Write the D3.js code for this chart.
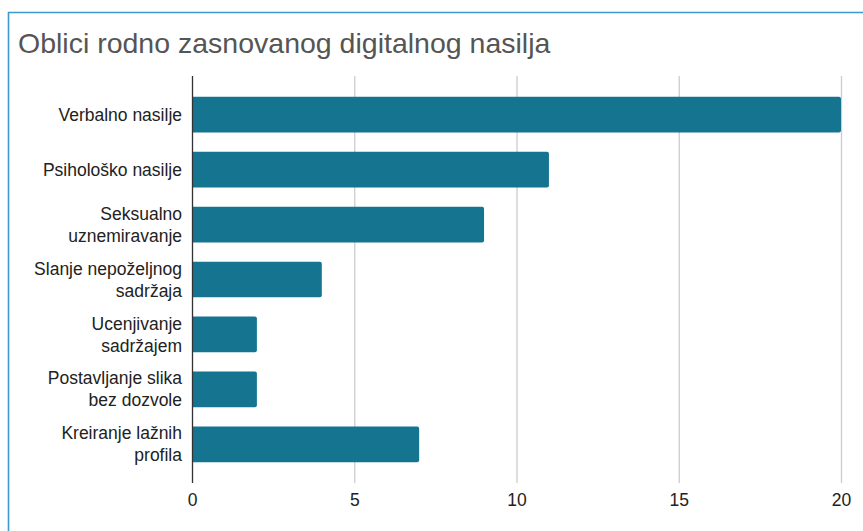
<!DOCTYPE html>
<html>
<head>
<meta charset="utf-8">
<script src="https://cdn.jsdelivr.net/npm/d3@7"></script>
<style>
  body { margin: 0; background: #fff; }
  svg { display: block; font-family: Arial, "Liberation Sans", sans-serif; }
</style>
</head>
<body>
<div id="chart"></div>
<script>
// data
var categories = [
    ["Verbalno nasilje"],
    ["Psihološko nasilje"],
    ["Seksualno", "uznemiravanje"],
    ["Slanje nepoželjnog", "sadržaja"],
    ["Ucenjivanje", "sadržajem"],
    ["Postavljanje slika", "bez dozvole"],
    ["Kreiranje lažnih", "profila"]
];
var values = [20, 11, 9, 4, 2, 2, 7];
var xTicks = [0, 5, 10, 15, 20];
var title = "Oblici rodno zasnovanog digitalnog nasilja";

var width = 863, height = 531;
var margin = {top: 76, right: 22, bottom: 48, left: 192};

var svg = d3.select("#chart").append("svg")
    .attr("width", width)
    .attr("height", height);

// frame (top + left edges visible)
svg.append("path")
    .attr("d", "M8.5," + height + "V12.5H" + width)
    .attr("fill", "none")
    .attr("stroke", "#3d9ad1")
    .attr("stroke-width", 1.6);

svg.append("text")
    .attr("x", 18)
    .attr("y", 53)
    .attr("font-size", 28.5)
    .attr("fill", "#555555")
    .text(title);

var x = d3.scaleLinear()
    .domain([0, 20])
    .range([margin.left, width - margin.right]);

var y = d3.scaleBand()
    .domain(d3.range(values.length))
    .range([margin.top, height - margin.bottom])
    .paddingInner(0.35)
    .paddingOuter(0.38);

var plotBottom = height - margin.bottom;

// gridlines
svg.append("g").selectAll("line")
    .data(xTicks.filter(function(d){ return d > 0; }))
    .enter().append("line")
    .attr("x1", function(d){ return x(d) + 0.5; })
    .attr("x2", function(d){ return x(d) + 0.5; })
    .attr("y1", margin.top)
    .attr("y2", plotBottom)
    .attr("stroke", "#cccccc")
    .attr("stroke-width", 1.3);

// bars, rounded on the right end only
function barPath(d, i) {
    var x0 = x(0), x1 = x(d), y0 = y(i), h = y.bandwidth(), r = 2;
    return "M" + x0 + "," + y0 +
        "H" + (x1 - r) +
        "Q" + x1 + "," + y0 + " " + x1 + "," + (y0 + r) +
        "V" + (y0 + h - r) +
        "Q" + x1 + "," + (y0 + h) + " " + (x1 - r) + "," + (y0 + h) +
        "H" + x0 + "Z";
}

svg.append("g").selectAll("path")
    .data(values)
    .enter().append("path")
    .attr("d", barPath)
    .attr("fill", "#157591");

// zero axis line
svg.append("line")
    .attr("x1", x(0) + 0.5)
    .attr("x2", x(0) + 0.5)
    .attr("y1", margin.top)
    .attr("y2", plotBottom)
    .attr("stroke", "#333333")
    .attr("stroke-width", 1.3);

// x tick labels
var xAxis = d3.axisBottom(x).tickValues(xTicks).tickSize(0).tickPadding(0);
var gx = svg.append("g")
    .attr("transform", "translate(0," + (plotBottom + 11) + ")")
    .call(xAxis);
gx.select(".domain").remove();
gx.selectAll("text")
    .attr("font-size", 17.5)
    .attr("font-family", "Arial, 'Liberation Sans', sans-serif")
    .attr("fill", "#222222")
    .attr("dy", "0.71em");

// category labels
var labels = svg.append("g").selectAll("text")
    .data(categories)
    .enter().append("text")
    .attr("text-anchor", "end")
    .attr("font-size", 17.5)
    .attr("fill", "#222222")
    .attr("x", x(0) - 10)
    .attr("y", function(d, i){
        return y(i) + y.bandwidth() / 2 - (d.length - 1) * 11;
    });

labels.selectAll("tspan")
    .data(function(d){ return d; })
    .enter().append("tspan")
    .attr("x", x(0) - 10)
    .attr("dy", function(d, j){ return j === 0 ? "0.35em" : 22; })
    .text(function(d){ return d; });
</script>
</body>
</html>
